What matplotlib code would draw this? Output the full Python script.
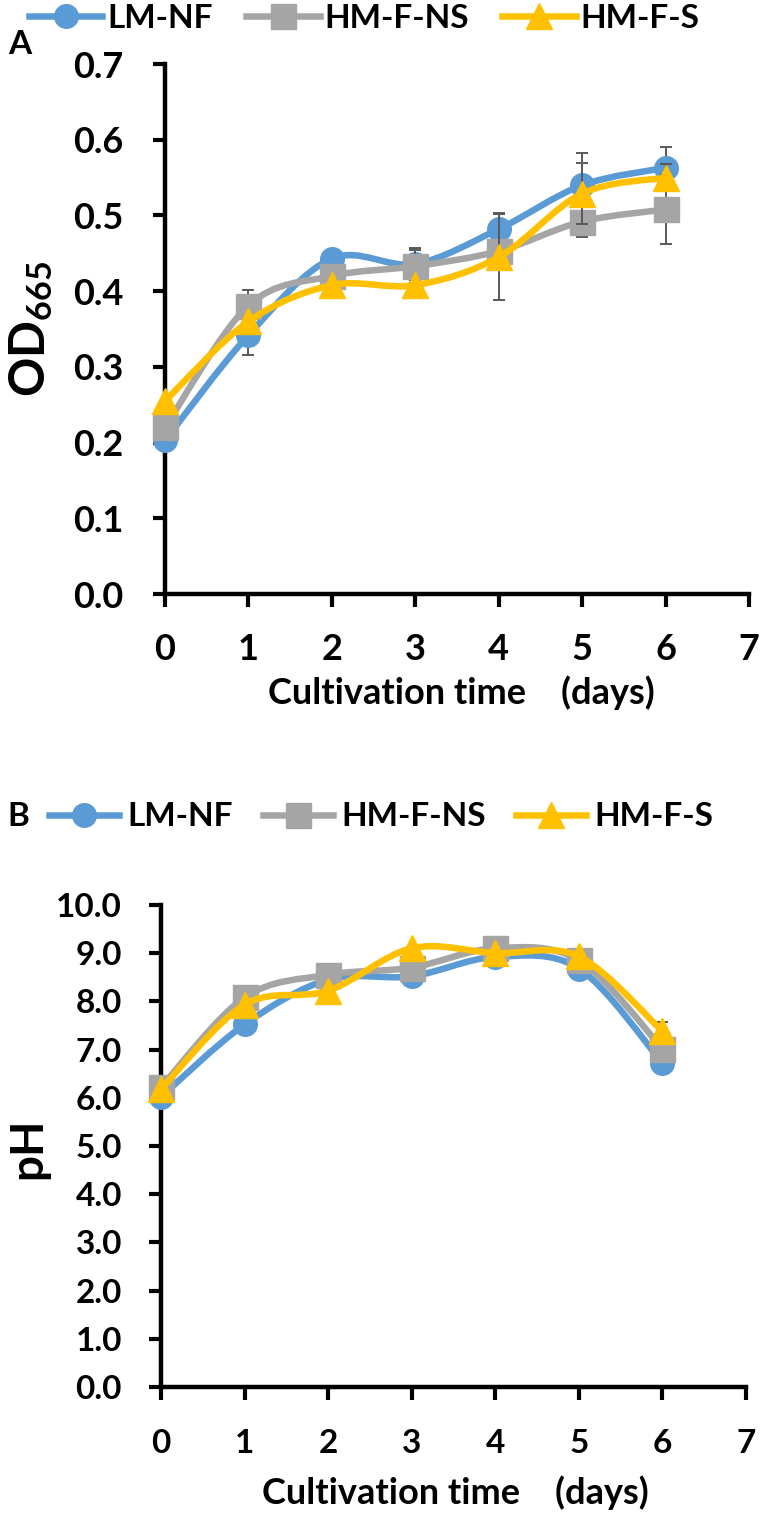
import matplotlib
matplotlib.use("Agg")
import matplotlib.pyplot as plt
from matplotlib.path import Path
from matplotlib.patches import PathPatch
from matplotlib.lines import Line2D
from matplotlib.ticker import FormatStrFormatter, MultipleLocator

plt.rcParams['font.family'] = ['Lato', 'DejaVu Sans']
plt.rcParams['font.weight'] = 'bold'
plt.rcParams['axes.labelweight'] = 'bold'
plt.rcParams['mathtext.fontset'] = 'custom'
plt.rcParams['mathtext.rm'] = 'Lato:bold'
plt.rcParams['mathtext.it'] = 'Lato:bold'
plt.rcParams['mathtext.bf'] = 'Lato:bold'

# data
days = [0, 1, 2, 3, 4, 5, 6]
series_names = ["LM-NF", "HM-F-NS", "HM-F-S"]

od_lm_nf = [0.203, 0.342, 0.443, 0.436, 0.482, 0.540, 0.563]
od_hm_f_ns = [0.220, 0.381, 0.420, 0.433, 0.453, 0.492, 0.508]
od_hm_f_s = [0.255, 0.360, 0.408, 0.408, 0.445, 0.529, 0.550]

od_err_lm_nf = [0.0, 0.026, 0.0, 0.021, 0.021, 0.043, 0.027]
od_err_hm_f_ns = [0.0, 0.020, 0.0, 0.022, 0.0, 0.020, 0.045]
od_err_hm_f_s = [0.0, 0.0, 0.0, 0.0, 0.057, 0.040, 0.018]

ph_lm_nf = [6.02, 7.52, 8.45, 8.52, 8.92, 8.68, 6.72]
ph_hm_f_ns = [6.22, 8.08, 8.55, 8.70, 9.10, 8.85, 7.02]
ph_hm_f_s = [6.18, 7.93, 8.22, 9.10, 9.00, 8.93, 7.38]

ph_err_lm_nf = [0, 0, 0, 0, 0, 0, 0]
ph_err_hm_f_ns = [0, 0, 0, 0, 0, 0, 0]
ph_err_hm_f_s = [0, 0, 0, 0, 0, 0, 0.2]

colors = ["#5B9BD5", "#A5A5A5", "#FFC000"]
markers = ["o", "s", "^"]
msizes = [17, 18, 19]
err_color = "#595959"


def smooth_path(x, y):
    """ Сглаженная линия как в Excel (Catmull-Rom через кривые Безье) """
    pts = list(zip(x, y))
    n = len(pts)
    verts = [pts[0]]
    codes = [Path.MOVETO]
    for i in range(n - 1):
        p0 = pts[max(i - 1, 0)]
        p1 = pts[i]
        p2 = pts[i + 1]
        p3 = pts[min(i + 2, n - 1)]
        c1 = (p1[0] + (p2[0] - p0[0]) / 6, p1[1] + (p2[1] - p0[1]) / 6)
        c2 = (p2[0] - (p3[0] - p1[0]) / 6, p2[1] - (p3[1] - p1[1]) / 6)
        verts += [c1, c2, p2]
        codes += [Path.CURVE4] * 3
    return Path(verts, codes)


def draw_panel(ax, values, errors, tick_size, ylim, step, fmt):
    for i, (vals, errs) in enumerate(zip(values, errors)):
        ax.errorbar(days, vals, yerr=errs, fmt='none', ecolor=err_color,
                    elinewidth=1.4, capsize=4.5, capthick=1.4, zorder=2 + 3 * i)
        ax.add_patch(PathPatch(smooth_path(days, vals), fill=False,
                               edgecolor=colors[i], lw=4.7, zorder=3 + 3 * i,
                               capstyle='round', joinstyle='round'))
        ax.plot(days, vals, linestyle='none', marker=markers[i], ms=msizes[i],
                color=colors[i], mec=colors[i], zorder=4 + 3 * i, clip_on=False)
    ax.set_xlim(0, 7)
    ax.set_ylim(*ylim)
    ax.xaxis.set_major_locator(MultipleLocator(1))
    ax.yaxis.set_major_locator(MultipleLocator(step))
    ax.yaxis.set_major_formatter(FormatStrFormatter(fmt))
    for s in ['top', 'right']:
        ax.spines[s].set_visible(False)
    for s in ['left', 'bottom']:
        ax.spines[s].set_linewidth(3.2)
    ax.tick_params(axis='both', direction='out', length=9, width=3,
                   labelsize=tick_size)


def legend_handles():
    return [Line2D([], [], color=colors[i], lw=4.7, marker=markers[i],
                   ms=msizes[i], mec=colors[i]) for i in range(3)]


fig = plt.figure(figsize=(7.62, 15.15), dpi=100)

# панель A
ax1 = fig.add_axes([0.2165, 0.6079, 0.7664, 0.3498])
draw_panel(ax1, [od_lm_nf, od_hm_f_ns, od_hm_f_s],
           [od_err_lm_nf, od_err_hm_f_ns, od_err_hm_f_s], 26, (0, 0.7), 0.1, '%.1f')
ax1.tick_params(axis='y', pad=21)
ax1.tick_params(axis='x', pad=19)
ax1.set_xlabel("Cultivation time    (days)", fontsize=26, fontweight='bold')
ax1.xaxis.set_label_coords(0.507, -0.187)
ax1.xaxis.label.set_va('center')
ax1.set_ylabel(r"$\mathrm{OD_{665}}$", fontsize=35, fontweight='bold')
ax1.yaxis.set_label_coords(-0.229, 0.5)
ax1.yaxis.label.set_va('center')
fig.text(20 / 762, 1 - 44 / 1515, "A", fontsize=24, fontweight='bold',
         ha='center', va='center')
fig.legend(handles=legend_handles(), labels=series_names, ncol=3,
           loc='center left', bbox_to_anchor=(29 / 762, 1 - 18 / 1515),
           frameon=False, fontsize=24, handlelength=2.2, handletextpad=0.15,
           columnspacing=1.0, borderpad=0, borderaxespad=0, numpoints=1)

# панель B
ax2 = fig.add_axes([0.2113, 0.0845, 0.7677, 0.3182])
draw_panel(ax2, [ph_lm_nf, ph_hm_f_ns, ph_hm_f_s],
           [ph_err_lm_nf, ph_err_hm_f_ns, ph_err_hm_f_s], 24, (0, 10), 1, '%.1f')
ax2.tick_params(axis='y', pad=19)
ax2.tick_params(axis='x', pad=21)
ax2.set_xlabel("Cultivation time    (days)", fontsize=26, fontweight='bold')
ax2.xaxis.set_label_coords(0.504, -0.22)
ax2.xaxis.label.set_va('center')
ax2.set_ylabel("pH", fontsize=33, fontweight='bold')
ax2.yaxis.set_label_coords(-0.2265, 0.496)
ax2.yaxis.label.set_va('center')
fig.text(18 / 762, 1 - 817 / 1515, "B", fontsize=24, fontweight='bold',
         ha='center', va='center')
fig.legend(handles=legend_handles(), labels=series_names, ncol=3,
           loc='center left', bbox_to_anchor=(49 / 762, 1 - 817 / 1515),
           frameon=False, fontsize=24, handlelength=2.1, handletextpad=0.25,
           columnspacing=0.9, borderpad=0, borderaxespad=0, numpoints=1)

plt.savefig("out.png", dpi=100)
